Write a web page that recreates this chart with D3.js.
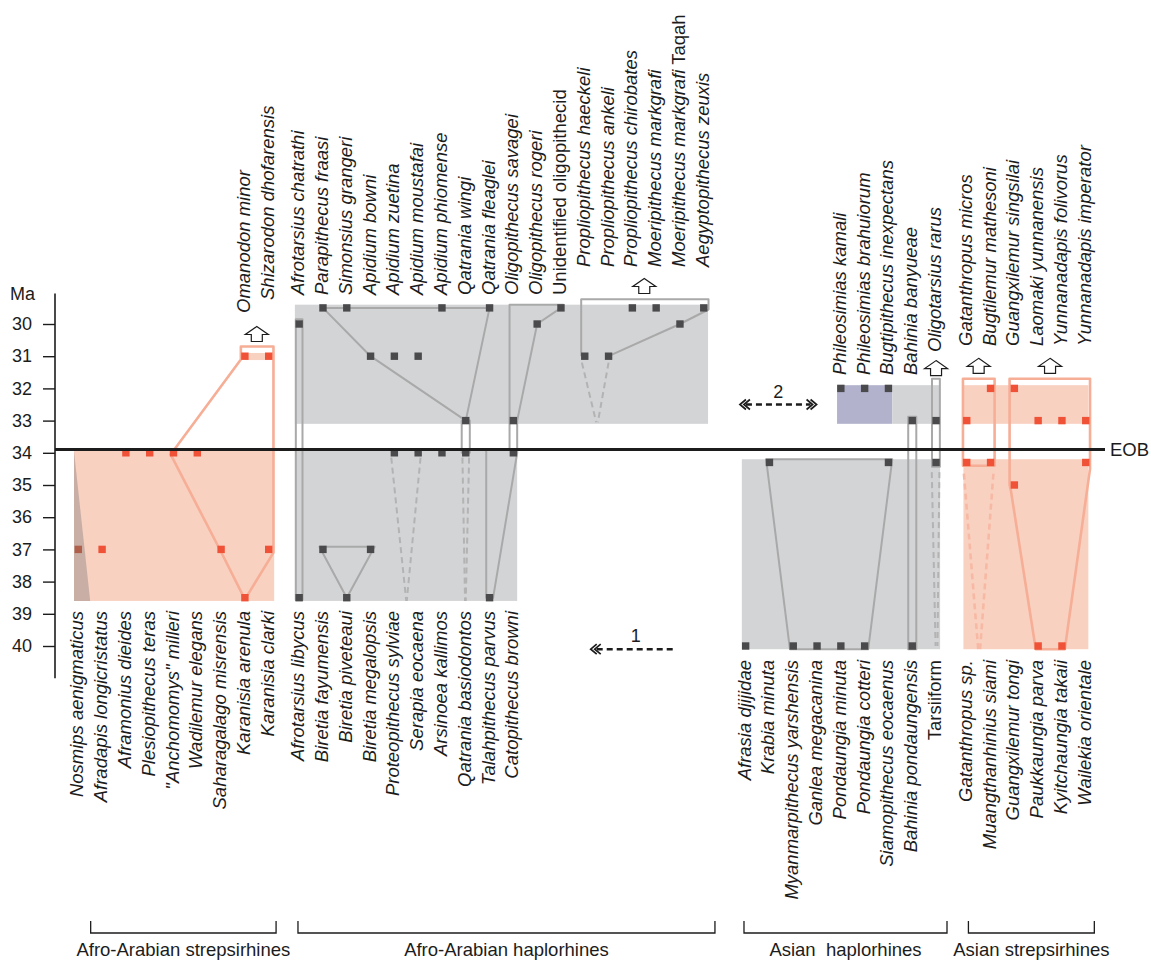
<!DOCTYPE html>
<html><head><meta charset="utf-8">
<script src="https://cdn.jsdelivr.net/npm/d3@7"></script>
<style>
html,body{margin:0;padding:0;background:#fff;}
svg{display:block;font-family:"Liberation Sans",Arial,Helvetica,sans-serif;}
</style></head><body>
<svg id="chart" width="1151" height="960"></svg>
<script>
// ================= DATA =================
const groupNames = ["Afro-Arabian strepsirhines","Afro-Arabian haplorhines","Asian  haplorhines","Asian strepsirhines"];

// Group 0 : Afro-Arabian strepsirhines
const asBottom = ["Nosmips aenigmaticus","Afradapis longicristatus","Aframonius dieides","Plesiopithecus teras","\"Anchomomys\" milleri","Wadilemur elegans","Saharagalago misrensis","Karanisia arenula","Karanisia clarki"];
const asBottomMa = [37,37,34,34,34,34,37,38.5,37];
const asTop = ["Omanodon minor","Shizarodon dhofarensis"];
const asTopCol = [7,8];
const asTopMa = [31,31];

// Group 1 : Afro-Arabian haplorhines
const ahBottom = ["Afrotarsius libycus","Biretia fayumensis","Biretia piveteaui","Biretia megalopsis","Proteopithecus sylviae","Serapia eocaena","Arsinoea kallimos","Qatrania basiodontos","Talahpithecus parvus","Catopithecus browni"];
const ahBottomMa = [38.5,37,38.5,37,34,34,34,34,38.5,34];
const ahTop = ["Afrotarsius chatrathi","Parapithecus fraasi","Simonsius grangeri","Apidium bowni","Apidium zuetina","Apidium moustafai","Apidium phiomense","Qatrania wingi","Qatrania fleaglei","Oligopithecus savagei","Oligopithecus rogeri","Unidentified oligopithecid","Propliopithecus haeckeli","Propliopithecus ankeli","Propliopithecus chirobates","Moeripithecus markgrafi","Moeripithecus markgrafi Taqah","Aegyptopithecus zeuxis"];
const ahTopMa = [30,29.5,29.5,31,31,31,29.5,33,29.5,33,30,29.5,31,31,29.5,29.5,30,29.5];

// Group 2 : Asian haplorhines
const shBottom = ["Afrasia djijidae","Krabia minuta","Myanmarpithecus yarshensis","Ganlea megacanina","Pondaungia minuta","Pondaungia cotteri","Siamopithecus eocaenus","Bahinia pondaungensis","Tarsiiform"];
const shBottomMa = [40,34.3,40,40,40,40,34.3,40,34.3];
const shTop = ["Phileosimias kamali","Phileosimias brahuiorum","Bugtipithecus inexpectans","Bahinia banyueae","Oligotarsius rarus"];
const shTopCol = [4,5,6,7,8];
const shTopMa = [32,32,32,33,33];

// Group 3 : Asian strepsirhines
const ssBottom = ["Gatanthropus sp.","Muangthanhinius siami","Guangxilemur tongi","Paukkaungia parva","Kyitchaungia takaii","Wailekia orientale"];
const ssBottomMa = [34.3,34.3,35,40,40,34.3];
const ssTop = ["Gatanthropus micros","Bugtilemur mathesoni","Guangxilemur singsilai","Laomaki yunnanensis","Yunnanadapis folivorus","Yunnanadapis imperator"];
const ssTopMa = [33,32,32,33,33,33];

const uprightNames = ["Unidentified oligopithecid","Tarsiiform"];
const maTicks = [30,31,32,33,34,35,36,37,38,39,40];
const eobMa = 33.9;

// shaded ranges: [group, colFrom, colTo, maFrom, maTo, kind]
const ranges = [
  [0,-0.18,8.23,33.9,38.6,"salmon"],
  [0,7,8.1,30.9,31.12,"salmon"],
  [1,-0.18,17.18,29.4,33.1,"gray"],
  [1,-0.18,9.16,33.9,38.6,"gray"],
  [2,-0.16,8.17,34.2,40.1,"gray"],
  [2,3.84,6.16,31.9,33.1,"purple"],
  [2,6.16,8.17,31.9,33.1,"gray"],
  [3,-0.14,5.11,31.9,33.1,"salmon"],
  [3,-0.14,5.11,34.2,40.1,"salmon"]
];
// filled polygon (Nosmips wedge): [group, kind, points]
const wedges = [[0,"brown",[[-0.18,33.95],[-0.18,38.6],[0.5,38.6]]]];

// lineage outlines: [group, kind, dashed, closed, points[col, Ma]]
const lineages = [
  [0,"salmon",false,true,[[3.88,34.05],[6.83,31.1],[6.83,30.7],[8.2,30.7],[8.2,37.1],[7,38.55],[5.98,37.05]]],
  [1,"gray",false,true,[[-0.14,29.85],[0.14,29.85],[0.14,38.57],[-0.14,38.57]]],
  [1,"gray",false,true,[[1,29.5],[3,31],[7,33],[8,29.5]]],
  [1,"gray",false,true,[[6.83,33.0],[7.17,33.0],[7.17,34.0],[6.83,34.0]]],
  [1,"gray",true,false,[[6.86,34.15],[6.97,38.6]]],
  [1,"gray",true,false,[[7.14,34.15],[7.0,38.6]]],
  [1,"gray",true,false,[[3.87,34.15],[4.5,38.6]]],
  [1,"gray",true,false,[[5.1,34.15],[4.52,38.6]]],
  [1,"gray",false,true,[[0.85,36.92],[3.17,36.92],[2,38.5]]],
  [1,"gray",false,true,[[8.84,29.4],[11.1,29.4],[11,29.5],[10,30],[9.16,33],[9.16,34],[8.15,38.5],[7.86,38.5],[7.86,33.9],[8.84,33.9]]],
  [1,"gray",false,false,[[11.85,31],[11.85,29.23],[17.2,29.23],[17.2,29.55],[16,30],[13,31]]],
  [1,"gray",true,false,[[11.88,31.2],[12.48,33.05]]],
  [1,"gray",true,false,[[13,31.2],[12.55,33.05]]],
  [2,"gray",false,true,[[0.86,34.2],[6.16,34.2],[5.15,40.1],[1.86,40.1]]],
  [2,"gray",false,true,[[6.83,32.88],[7.17,32.88],[7.17,40.1],[6.83,40.1]]],
  [2,"gray",false,true,[[7.83,31.7],[8.16,31.7],[8.16,34.43],[7.83,34.43]]],
  [2,"gray",true,false,[[7.82,34.6],[7.98,40.0]]],
  [2,"gray",true,false,[[8.14,34.6],[8.06,40.0]]],
  [3,"salmon",false,true,[[-0.16,31.7],[1.17,31.7],[1.17,34.4],[-0.16,34.4]]],
  [3,"salmon",true,false,[[-0.12,34.65],[0.48,40.1]]],
  [3,"salmon",true,false,[[1.12,34.65],[0.56,40.1]]],
  [3,"salmon",false,true,[[1.8,31.7],[5.18,31.7],[5.18,34.5],[4.12,40.1],[2.9,40.1],[1.85,35.15],[1.8,35]]]
];

// open "continues younger" arrows: [group, col, Ma]
const upArrows = [[0,7.5,30.31],[1,14.5,28.82],[2,8,31.37],[3,0.5,31.3],[3,3.5,31.3]];

// dispersal arrows: [label, slotFrom, slotTo, Ma, bothEnds]
const dispersals = [["1",21.53,25.14,40.1,false],["2",27.8,31.02,32.5,true]];

// ================= LAYOUT / STYLE =================
const W = 1151, H = 960;
const FS = 18.5, INK = "#1c1c1c";
const fillColor = {salmon:"#f9d1c1", gray:"#d3d4d6", purple:"#b2b2cd", brown:"#c9aea6"};
const lineColor = {salmon:"#f6ae96", gray:"#a9a9a9"};
const dashColor = {salmon:"#f7b9a4", gray:"#b3b3b3"};
const markerColor = ["#ef5236","#4a4a4c","#4a4a4c","#ef5236"];
const groupOffset = [0, 9.28, 28.04, 37.33];

const x = d3.scaleLinear().domain([0,1]).range([78.3,102.1]);
const X = (g,c) => x(groupOffset[g] + c);
const y = d3.scaleLinear().domain([30,40]).range([324,646]);

const svg = d3.select("#chart");

// taxa list
const taxa = [];
asBottom.forEach((n,i)=>taxa.push({g:0,col:i,name:n,ma:asBottomMa[i],pos:"bottom"}));
asTop.forEach((n,i)=>taxa.push({g:0,col:asTopCol[i],name:n,ma:asTopMa[i],pos:"top"}));
ahBottom.forEach((n,i)=>taxa.push({g:1,col:i,name:n,ma:ahBottomMa[i],pos:"bottom"}));
ahTop.forEach((n,i)=>taxa.push({g:1,col:i,name:n,ma:ahTopMa[i],pos:"top"}));
shBottom.forEach((n,i)=>taxa.push({g:2,col:i,name:n,ma:shBottomMa[i],pos:"bottom"}));
shTop.forEach((n,i)=>taxa.push({g:2,col:shTopCol[i],name:n,ma:shTopMa[i],pos:"top"}));
ssBottom.forEach((n,i)=>taxa.push({g:3,col:i,name:n,ma:ssBottomMa[i],pos:"bottom"}));
ssTop.forEach((n,i)=>taxa.push({g:3,col:i,name:n,ma:ssTopMa[i],pos:"top"}));

function topStart(d){
  if(d.g===0) return d.col===7 ? 313 : 300;
  if(d.g===1) return d.col<12 ? 295 : 267;
  if(d.g===2) return d.col===8 ? 352 : 375;
  return 346;
}
function bottomEnd(d){ return d.g<2 ? 611 : 660; }

// ---- shaded ranges ----
svg.append("g").selectAll("rect").data(ranges).join("rect")
  .attr("x",d=>X(d[0],d[1])).attr("width",d=>X(d[0],d[2])-X(d[0],d[1]))
  .attr("y",d=>y(d[3])).attr("height",d=>y(d[4])-y(d[3]))
  .attr("fill",d=>fillColor[d[5]]);

svg.append("g").selectAll("path").data(wedges).join("path")
  .attr("d",d=>d3.line()(d[2].map(p=>[X(d[0],p[0]),y(p[1])]))+"Z")
  .attr("fill",d=>fillColor[d[1]]);

// ---- lineage lines ----
svg.append("g").selectAll("path").data(lineages).join("path")
  .attr("d",d=>d3.line()(d[4].map(p=>[X(d[0],p[0]),y(p[1])]))+(d[3]?"Z":""))
  .attr("fill","none")
  .attr("stroke",d=>d[2]?dashColor[d[1]]:lineColor[d[1]])
  .attr("stroke-width",d=>d[1]==="salmon"?2.6:2)
  .attr("stroke-dasharray",d=>d[2]?"6,4":null)
  .attr("stroke-linejoin","round");

// ---- markers ----
const MS = 7.4;
svg.append("g").selectAll("rect").data(taxa).join("rect")
  .attr("x",d=>X(d.g,d.col)-MS/2).attr("y",d=>y(d.ma)-MS/2)
  .attr("width",MS).attr("height",MS)
  .attr("fill",d=>(d.g===0&&d.col===0&&d.pos==="bottom")?"#b0604a":markerColor[d.g]);

// ---- EOB line ----
svg.append("line").attr("x1",55).attr("x2",1105).attr("y1",y(eobMa)).attr("y2",y(eobMa))
  .attr("stroke",INK).attr("stroke-width",3);
svg.append("text").attr("x",1110).attr("y",y(eobMa)).attr("dy","0.35em")
  .attr("font-size",FS).attr("fill",INK).text("EOB");

// ---- up arrows ----
const arrowPath = "M0,-7.5 L11.5,0.5 L5.5,0.5 L5.5,7.5 L-5.5,7.5 L-5.5,0.5 L-11.5,0.5 Z";
svg.append("g").selectAll("path").data(upArrows).join("path")
  .attr("transform",d=>`translate(${X(d[0],d[1])},${y(d[2])})`)
  .attr("d",arrowPath).attr("fill","#fff").attr("stroke",INK).attr("stroke-width",1.2)
  .attr("stroke-linejoin","miter");

// ---- dispersal arrows ----
dispersals.forEach(d=>{
  const x1 = x(d[1]), x2 = x(d[2]), yy = y(d[3]);
  const gA = svg.append("g");
  gA.append("line").attr("x1",x1+6).attr("x2",d[4]?x2-6:x2).attr("y1",yy).attr("y2",yy)
    .attr("stroke",INK).attr("stroke-width",2.6).attr("stroke-dasharray","6,4");
  const chev = (tip,dir)=>{
    [0,4].forEach(o=>{
      const t = tip + dir*o;
      gA.append("path").attr("d",`M${t+dir*6},${yy-5} L${t},${yy} L${t+dir*6},${yy+5}`)
        .attr("fill","none").attr("stroke",INK).attr("stroke-width",1.7);
    });
  };
  chev(x1,1);
  if(d[4]) chev(x2,-1);
  gA.append("text").attr("x",(x1+x2)/2+(d[4]?0:2)).attr("y",yy-7)
    .attr("text-anchor","middle").attr("font-size",18).attr("fill",INK).text(d[0]);
});

// ---- y axis ----
const axis = d3.axisLeft(y).tickValues(maTicks).tickSize(12).tickPadding(11).tickFormat(d3.format("d"));
const ax = svg.append("g").attr("transform","translate(55,0)").call(axis);
ax.select(".domain").remove();
ax.selectAll("text").attr("font-size",18).attr("fill",INK)
  .attr("font-family","'Liberation Sans',Arial,sans-serif");
ax.selectAll("line").attr("stroke",INK).attr("stroke-width",1.4);
svg.append("line").attr("x1",55).attr("x2",55).attr("y1",y(29.05)).attr("y2",y(41.0))
  .attr("stroke",INK).attr("stroke-width",1.6);
svg.append("text").attr("x",35).attr("y",y(29.05)).attr("dy","0.35em").attr("text-anchor","end")
  .attr("font-size",18).attr("fill",INK).text("Ma");

// ---- species labels ----
function addLabel(sel, name){
  if(uprightNames.includes(name)){
    sel.append("tspan").attr("font-style","normal").text(name);
  } else if(name.endsWith(" Taqah")){
    sel.append("tspan").attr("font-style","italic").text(name.replace(" Taqah",""));
    sel.append("tspan").attr("font-style","normal").text(" Taqah");
  } else {
    sel.append("tspan").attr("font-style","italic").text(name);
  }
}
const lab = svg.append("g").attr("font-size",FS).attr("fill",INK);
taxa.forEach(d=>{
  const xx = X(d.g,d.col);
  if(d.pos==="top"){
    const t = lab.append("text").attr("transform",`translate(${xx},${topStart(d)}) rotate(-90)`)
      .attr("dy","0.27em").attr("text-anchor","start");
    addLabel(t,d.name);
  } else {
    const t = lab.append("text").attr("transform",`translate(${xx},${bottomEnd(d)}) rotate(-90)`)
      .attr("dy","0.27em").attr("text-anchor","end");
    addLabel(t,d.name);
  }
});

// ---- group brackets ----
const brackets = [[0,0.52,8.31],[1,-0.05,17.47],[2,-0.07,8.46],[3,0.07,5.36]];
const bg = svg.append("g");
brackets.forEach(b=>{
  const a = X(b[0],b[1]), c = X(b[0],b[2]);
  bg.append("path").attr("d",`M${a},921 V933 H${c} V921`).attr("fill","none")
    .attr("stroke",INK).attr("stroke-width",1.3);
  bg.append("text").attr("x",(a+c)/2).attr("y",956).attr("text-anchor","middle")
    .attr("font-size",18.5).attr("fill",INK).attr("xml:space","preserve")
    .style("white-space","pre").text(groupNames[b[0]]);
});
</script>
</body></html>
